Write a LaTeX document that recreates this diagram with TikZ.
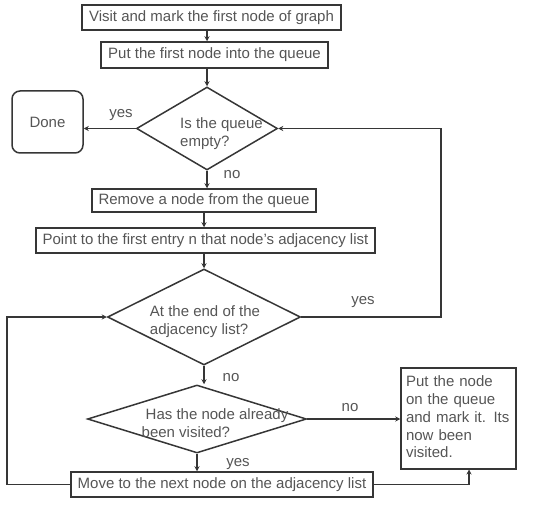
\documentclass[tikz,border=0pt]{standalone}
\usepackage{fontspec}
\setmainfont{Liberation Sans}
\usetikzlibrary{shapes.geometric}
\usetikzlibrary{arrows.meta}
\definecolor{linegray}{HTML}{363636}
\definecolor{textgray}{HTML}{555555}
\newcommand\chartfont{\fontsize{15}{17.8}\selectfont}
\newcommand\turnright{441}
\newcommand\turnleft{7}
\tikzset{
    stepbox/.style = {draw=linegray, line width=1.5pt, text=textgray, font=\chartfont, inner sep=2pt},
    decision/.style = {diamond, draw=linegray, line width=1.5pt, inner sep=0pt},
    dtext/.style = {text=textgray, font=\chartfont, align=left, inner sep=0pt},
    answer/.style = {text=textgray, font=\chartfont, inner sep=0pt},
    flow/.style = {draw=linegray, line width=1.3pt, -{Stealth[length=5pt,width=5pt]}},
}

\begin{document}
\begin{tikzpicture}[x=1pt,y=-1pt]
    \useasboundingbox (0,0) rectangle (556,513);
    % --- Boxes
    \node[stepbox, minimum width=259, minimum height=25] (visit) at (211.5,17.5) {Visit and mark the first node of graph};
    \node[stepbox, minimum width=227, minimum height=26] (putfirst) at (214.5,55) {Put the first node into the queue};
    \node[stepbox, rounded corners=8pt, minimum width=71, minimum height=62] (done) at (47.5,122) {Done};
    \node[stepbox, minimum width=224, minimum height=23] (remove) at (204,200.5) {Remove a node from the queue};
    \node[stepbox, minimum width=339, minimum height=25] (point) at (205.5,240.5) {Point to the first entry n that node's adjacency list};
    \node[stepbox, minimum width=302, minimum height=25] (move) at (222,484.5) {Move to the next node on the adjacency list};
    \node[stepbox, anchor=north, inner xsep=5pt, inner ysep=0pt, text width=105, align=left, text height=19pt, text depth=82pt] (putnode) at (458.5,367)
        {Put the node\\on the queue\\and mark it. Its\\now been\\visited.};
    % --- Diamonds
    \node[decision, minimum width=141, minimum height=83,
        label={[dtext, name=emptytext, xshift=14.5, yshift=-5.5]center:{Is the queue\\empty?}}] (empty) at (207,128.5) {};
    \node[decision, minimum width=193, minimum height=96,
        label={[dtext, name=atendtext, xshift=1, yshift=-4.5]center:{At the end of the\\adjacency list?}}] (atend) at (204,317) {};
    \node[decision, minimum width=219, minimum height=68,
        label={[dtext, name=visitedtext, xshift=18, yshift=-4]center:{\hspace*{4pt}Has the node already\\been visited?}}] (visited) at (197,419) {};
    % --- Answers
    \node[answer] (yesdone) at (121,115) {yes};
    \node[answer] (noremove) at (232,175) {no};
    \node[answer] (yesend) at (363,302) {yes};
    \node[answer] (novisit) at (231,378) {no};
    \node[answer] (noput) at (350,408) {no};
    \node[answer] (yesmove) at (238,464) {yes};
    % --- Turning points
    \coordinate (rturn) at (\turnright,0);
    \coordinate (lturn) at (\turnleft,0);
    \coordinate (bturn) at (469,0);
    % --- Flow
    \draw[flow] (visit.south -| empty.north) -- (putfirst.north -| empty.north);
    \draw[flow] (putfirst.south -| empty.north) -- (empty.north);
    \draw[flow] (empty.west) -- (empty.west -| done.east);
    \draw[flow] (empty.south) -- (empty.south |- remove.north);
    \draw[flow] (remove.south) -- (remove.south |- point.north);
    \draw[flow] (atend.north |- point.south) -- (atend.north);
    \draw[flow] (atend.east) -- (atend.east -| rturn) |- (empty.east);
    \draw[flow] (atend.south) -- (atend.south |- visited.north);
    \draw[flow] (visited.east) -- (visited.east -| putnode.west);
    \draw[flow] (visited.south) -- (visited.south |- move.north);
    \draw[flow] (move.east) -| (putnode.south -| bturn);
    \draw[flow] (move.west) -- (move.west -| lturn) |- (atend.west);
\end{tikzpicture}
\end{document}
